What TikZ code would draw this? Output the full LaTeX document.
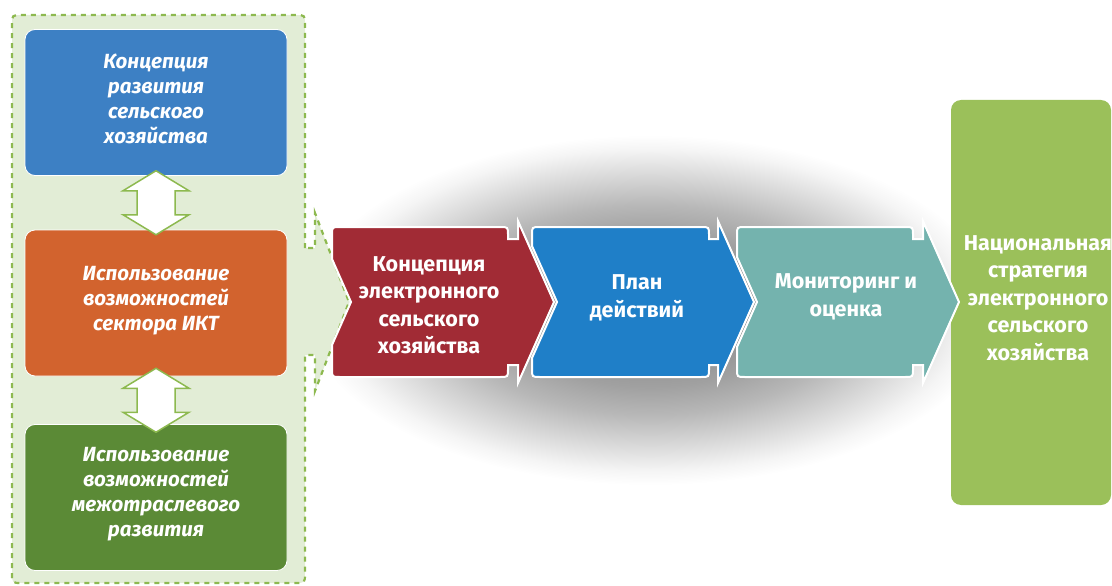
\documentclass[tikz,border=0pt]{standalone}
\usepackage{fontspec}
\setmainfont{Fira Sans}
\usetikzlibrary{calc}
\definecolor{panelfill}{HTML}{E2EDD6}
\definecolor{dashgreen}{HTML}{8DB94F}
\definecolor{boxblue}{HTML}{3D80C4}
\definecolor{boxorange}{HTML}{D2632E}
\definecolor{boxgreen}{HTML}{5B8A36}
\definecolor{chevred}{HTML}{A12B35}
\definecolor{chevblue}{HTML}{1F7FC8}
\definecolor{chevteal}{HTML}{74B3AE}
\definecolor{stratgreen}{HTML}{9BC05A}
\pgfdeclareradialshading{blobshade}{\pgfpoint{0bp}{0bp}}{color(0bp)=(black!46); color(6bp)=(black!44); color(11bp)=(black!37); color(15bp)=(black!28); color(18bp)=(black!19); color(21bp)=(black!10); color(23bp)=(black!4); color(25bp)=(white); color(50bp)=(white)}
\begin{document}
\begin{tikzpicture}[x=1pt,y=-1pt,
  leftbox/.style={draw=white, line width=0.8pt, rounded corners=10pt, minimum width=262pt, minimum height=146pt, inner sep=0pt},
  lefttext/.style={text=white, font=\fontsize{20.5}{25}\selectfont\bfseries\itshape, align=center, inner sep=0pt},
  chevshape/.style={draw=white, line width=2pt, line join=miter},
  chevtext/.style={text=white, font=\fontsize{21.5}{27.5}\selectfont\bfseries, align=center, inner sep=0pt},
  dblarrow/.style={draw=dashgreen, fill=white, line width=1.5pt, line join=miter},
  panel/.style={fill=panelfill, draw=dashgreen, line width=2.2pt, dash pattern=on 5pt off 5pt}]
\useasboundingbox (0,0) rectangle (1112,586);
\clip (0,0) rectangle (1112,586);
% gray shadow blob
\shade[shading=blobshade] (650,310) ellipse [x radius=345, y radius=175];
% left panel with tab
\path[panel] (305,248) -- (305,25) .. controls (305,15) .. (295,15) -- (22,15) .. controls (12,15) .. (12,25) -- (12,573) .. controls (12,583) .. (22,583) -- (295,583) .. controls (305,583) .. (305,573) -- (305,355) -- (315,355) -- (315,391) -- (349,302) -- (315,213) -- (315,248) -- cycle;
% left boxes
\node[leftbox, fill=boxblue] (b1) at (156,102.5) {};
\node[leftbox, fill=boxorange] (b2) at (156,303) {};
\node[leftbox, fill=boxgreen] (b3) at (156,497.5) {};
\node[lefttext] (t1) at (156,99) {Концепция\\развития\\сельского\\хозяйства};
\node[lefttext] (t2) at (156,301) {Использование\\возможностей\\сектора ИКТ};
\node[lefttext] (t3) at (156,494) {Использование\\возможностей\\межотраслевого\\развития};
% double arrows
\path (b1.south) -- (b2.north) coordinate[pos=0.5] (m1);
\path (b2.south) -- (b3.north) coordinate[pos=0.5] (m2);
\foreach \m in {m1,m2}{
  \draw[dblarrow, shift={(\m)}] (0,-32) -- (33,-12) -- (19,-12) -- (19,12) -- (33,12) -- (0,32) -- (-33,12) -- (-19,12) -- (-19,-12) -- (-33,-12) -- cycle;
}
% right strategy box
\node[fill=stratgreen, rounded corners=10pt, minimum width=160pt, minimum height=405pt, inner sep=0pt] (s) at (1031,302.5) {};
\node[chevtext] (st) at (1038,298) {Национальная\\стратегия\\электронного\\сельского\\хозяйства};
% teal chevron
\draw[chevshape, fill=chevteal] (737,257) -- (737,235) .. controls (737,227) .. (745,227) -- (905,227) .. controls (913,227) .. (913,235) -- (913,239) -- (923,239) -- (923,221) -- (959,302) -- (923,383) -- (923,365) -- (913,365) -- (913,369) .. controls (913,377) .. (905,377) -- (745,377) .. controls (737,377) .. (737,369) -- (737,347) -- (757,302) -- cycle;
% blue chevron
\draw[chevshape, fill=chevblue] (532,246) -- (532,235) .. controls (532,227) .. (540,227) -- (701,227) .. controls (709,227) .. (709,235) -- (709,239) -- (718,239) -- (718,221) -- (754,302) -- (718,383) -- (718,365) -- (709,365) -- (709,369) .. controls (709,377) .. (701,377) -- (540,377) .. controls (532,377) .. (532,369) -- (532,358) -- (557,302) -- cycle;
% red chevron
\draw[chevshape, fill=chevred] (332,259) -- (332,235) .. controls (332,227) .. (340,227) -- (500,227) .. controls (508,227) .. (508,235) -- (508,239) -- (518,239) -- (518,221) -- (554,302) -- (518,383) -- (518,365) -- (508,365) -- (508,369) .. controls (508,377) .. (500,377) -- (340,377) .. controls (332,377) .. (332,369) -- (332,345) -- (351,302) -- cycle;
% chevron texts
\node[chevtext] (c1) at (429,305) {Концепция\\электронного\\сельского\\хозяйства};
\node[chevtext] (c2) at (637,298) {План\\действий};
\node[chevtext] (c3) at (846,297) {Мониторинг и\\оценка};
\end{tikzpicture}
\end{document}
